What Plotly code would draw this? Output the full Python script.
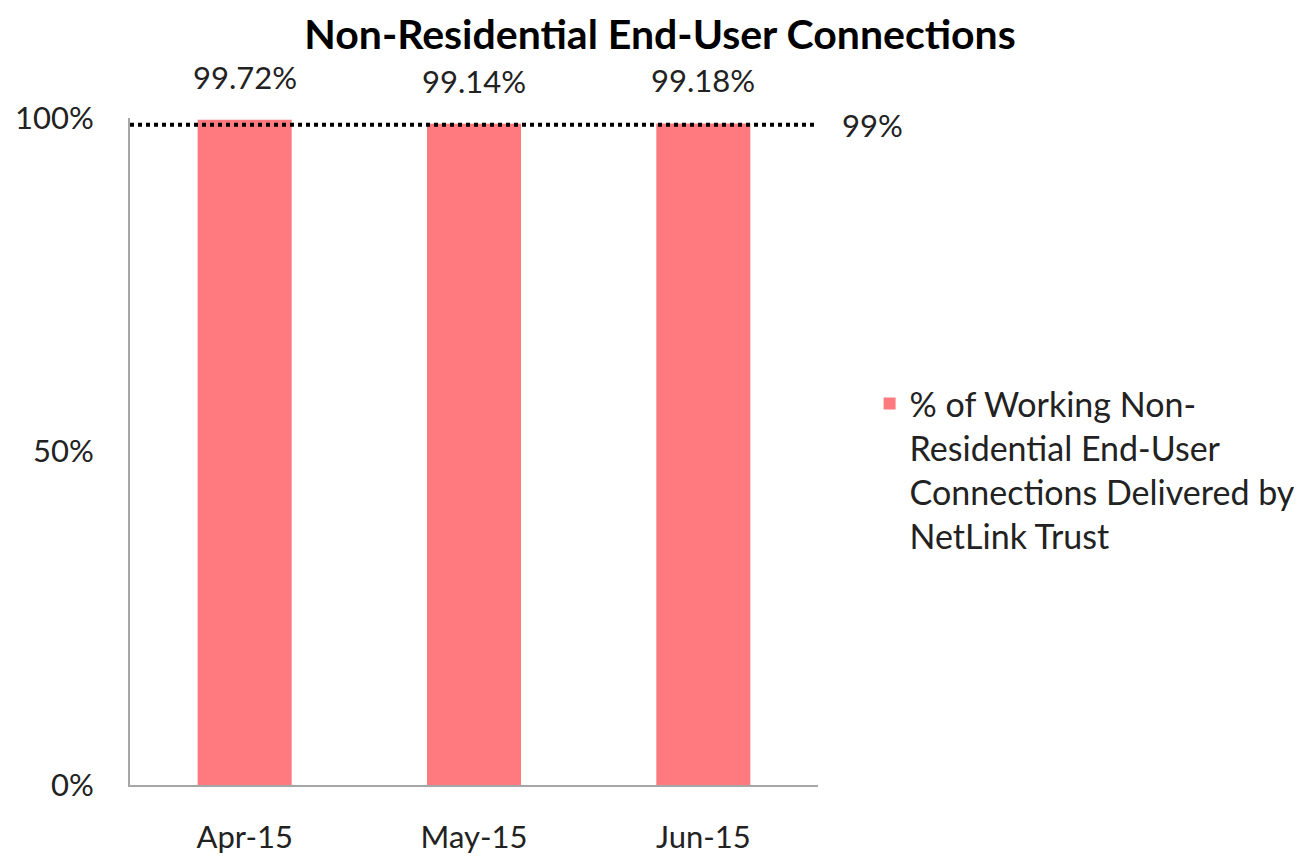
import plotly.graph_objects as go

months = ["Apr-15", "May-15", "Jun-15"]
values = [0.9972, 0.9914, 0.9918]
target = 0.99
series_name = "% of Working Non-<br>Residential End-User<br>Connections Delivered by<br>NetLink Trust"
title_text = "Non-Residential End-User Connections"
ytick_vals = [0, 0.5, 1.0]

FONT = "Lato, 'Open Sans', sans-serif"
BAR_COLOR = "#FF7A7E"
TXT = "#222"

fig = go.Figure()
fig.add_trace(go.Bar(
    x=months, y=values, name=series_name,
    marker=dict(color=BAR_COLOR, line=dict(width=0)),
    showlegend=True,
))

# data labels above bars
for m, v in zip(months, values):
    fig.add_annotation(x=m, y=v, text=f"{v*100:.2f}%", showarrow=False,
                       yanchor="bottom", yshift=22,
                       font=dict(family=FONT, size=31, color=TXT))

# 99% target dotted line
fig.add_shape(type="line", xref="paper", x0=0.0, x1=1.0, yref="y", y0=target, y1=target,
              line=dict(color="black", width=4, dash="4px,4px"), layer="above")
fig.add_annotation(xref="paper", x=1.0, y=target, text=f"{target*100:.0f}%", showarrow=False,
                   xanchor="left", xshift=22, font=dict(family=FONT, size=31, color=TXT))

fig.update_layout(
    width=1302, height=866,
    margin=dict(l=122, r=492, t=110, b=89, autoexpand=False),
    paper_bgcolor="white", plot_bgcolor="white",
    bargap=0.59,
    title=dict(text=f"<b>{title_text}</b>", x=(660 - 8) / 1302, xanchor="center",
               yref="container", y=1 - 27 / 866, yanchor="middle",
               font=dict(family=FONT, size=41, color="black")),
    font=dict(family=FONT, size=31, color=TXT),
    legend=dict(x=1.075, xanchor="left", y=0.615, yanchor="top", valign="top",
                font=dict(family=FONT, size=34, color=TXT),
                itemsizing="constant", bgcolor="rgba(0,0,0,0)"),
    showlegend=True,
)
fig.update_xaxes(showline=True, linecolor="#A6A6A6", linewidth=2, showgrid=False, automargin=False,
                 ticks="", ticklabelstandoff=24, tickfont=dict(family=FONT, size=31, color=TXT))
fig.update_yaxes(range=[0, 1.0], tickvals=ytick_vals, tickformat=".0%", automargin=False,
                 showline=True, linecolor="#A6A6A6", linewidth=2, showgrid=False,
                 zeroline=False, ticks="", ticklabelstandoff=28,
                 tickfont=dict(family=FONT, size=31, color=TXT))

fig.write_html("out.html")
